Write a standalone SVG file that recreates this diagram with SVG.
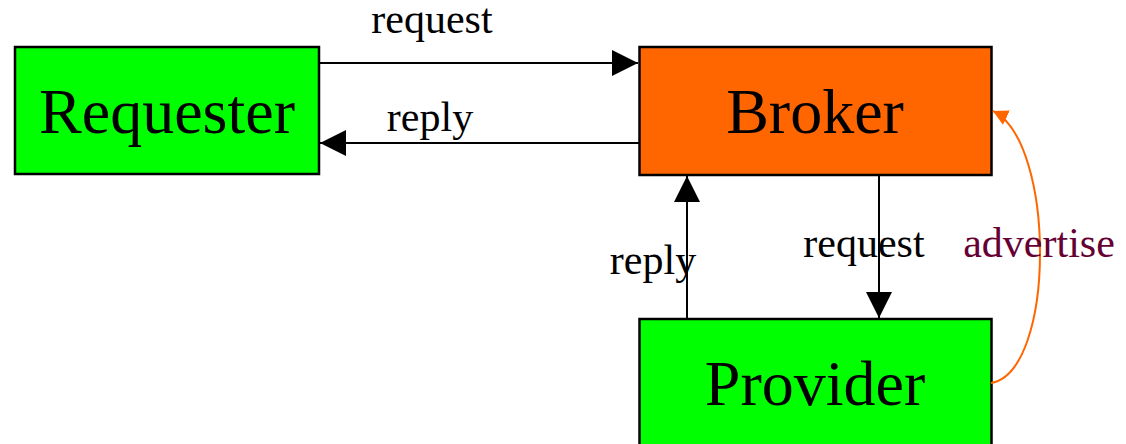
<svg xmlns="http://www.w3.org/2000/svg" width="1126" height="444" viewBox="0 0 1126 444">
  <style>
    .box { stroke: #000; stroke-width: 2.5; }
    .green { fill: #00FF00; }
    .orange { fill: #FF6600; }
    .name { font-family: "Liberation Serif", "Times New Roman", serif; font-size: 64px; fill: #000; text-anchor: middle; }
    .label { font-family: "Liberation Serif", "Times New Roman", serif; font-size: 42px; fill: #000; text-anchor: middle; }
    .adv { fill: #660033; }
    .edge { stroke: #000; stroke-width: 2; fill: none; }
    .edge-adv { stroke: #FF6600; stroke-width: 2; fill: none; }
  </style>
  <defs>
    <marker id="arrow" viewBox="0 0 26 26" refX="26" refY="13" markerWidth="26" markerHeight="26" markerUnits="userSpaceOnUse" orient="auto">
      <path d="M0,0 L26,13 L0,26 Z" fill="#000"/>
    </marker>
    <marker id="arrow-adv" viewBox="0 0 15 16" refX="15" refY="8" markerWidth="15" markerHeight="16" markerUnits="userSpaceOnUse" orient="auto">
      <path d="M0,0 L15,8 L0,16 Z" fill="#FF6600"/>
    </marker>
  </defs>

  <g id="requester">
    <rect class="box green" x="15" y="47" width="304" height="127"/>
    <text class="name" x="167" y="133">Requester</text>
  </g>

  <g id="broker">
    <rect class="box orange" x="639.5" y="47" width="352" height="128"/>
    <text class="name" x="815" y="133">Broker</text>
  </g>

  <g id="provider">
    <rect class="box green" x="639.5" y="319" width="352" height="140"/>
    <text class="name" x="815" y="405">Provider</text>
  </g>

  <g id="connectors">
    <!-- Requester -> Broker -->
    <line class="edge" x1="319" y1="63" x2="638" y2="63" marker-end="url(#arrow)"/>
    <text class="label" x="432" y="33">request</text>
    <!-- Broker -> Requester -->
    <line class="edge" x1="639" y1="143" x2="320" y2="143" marker-end="url(#arrow)"/>
    <text class="label" x="430" y="131">reply</text>
    <!-- Provider -> Broker -->
    <line class="edge" x1="687" y1="319" x2="687" y2="176" marker-end="url(#arrow)"/>
    <text class="label" x="653" y="274">reply</text>
    <!-- Broker -> Provider -->
    <line class="edge" x1="879" y1="175" x2="879" y2="318" marker-end="url(#arrow)"/>
    <text class="label" x="864" y="257">request</text>
    <!-- Provider advertises to Broker -->
    <path class="edge-adv" d="M991,383 C1056,372 1056,142 993,111" marker-end="url(#arrow-adv)"/>
    <text class="label adv" x="1039" y="257">advertise</text>
  </g>
</svg>
